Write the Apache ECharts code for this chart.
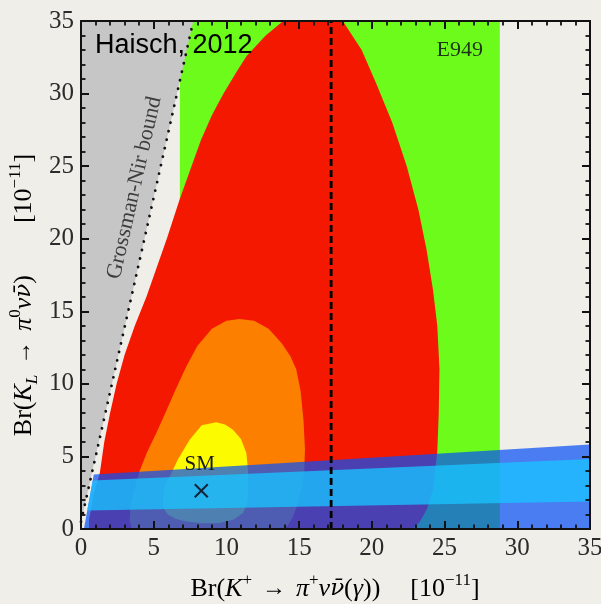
<!DOCTYPE html>
<html>
<head>
<meta charset="utf-8">
<script src="https://cdn.jsdelivr.net/npm/echarts@6/dist/echarts.min.js"></script>
<style>
  html, body { margin: 0; padding: 0; background: #efeee9; }
  #chart { width: 601px; height: 604px; }
</style>
</head>
<body>
<div id="chart"></div>
<script>
// Axis ticks (units of 10^-11)
const xTickValues = [0, 5, 10, 15, 20, 25, 30, 35];
const yTickValues = [0, 5, 10, 15, 20, 25, 30, 35];
const minorPerMajor = 5;

// E949 measured band for Br(K+ -> pi+ nu nubar)
const e949Band = [[6.8, 0], [28.8, 0], [28.8, 35], [6.8, 35]];
const e949Central = [[17.2, 0], [17.2, 35]];

// Grossman-Nir bound and the excluded region above it
const gnBoundLine = [[0, 0.5], [7.72, 35]];
const gnExcluded = [[0, 0.5], [7.72, 35], [0, 35]];

// Allowed regions (outer to inner)
const redRegion = [
  [0.55, 0], [0.55, 0.6], [0.85, 2.3], [1.3, 3.9], [1.6, 6], [2.0, 8], [2.45, 10],
  [3.0, 12], [3.7, 14], [4.5, 16], [5.2, 18], [5.9, 20], [6.78, 22.7], [7.6, 25],
  [8.25, 26.8], [9.0, 28.5], [9.8, 30], [10.7, 31.5], [11.4, 32.6], [12.7, 34], [13.9, 35],
  [18.0, 35], [19.3, 33], [20.3, 30.7], [21.4, 28], [22.4, 25], [23.2, 22], [23.76, 19.25],
  [24.2, 16.5], [24.5, 14], [24.65, 11], [24.6, 8], [24.5, 5.3], [24.2, 2.7], [23.8, 1.4],
  [23.3, 0.5], [22.8, 0]
];
const orangeRegion = [
  [3.5, 0], [3.35, 0.6], [3.4, 1.6], [3.7, 2.8], [4.03, 4.0], [4.55, 5.3], [5.17, 6.6],
  [5.8, 8.0], [6.5, 9.6], [7.24, 11.2], [8.0, 12.6], [9.0, 13.8], [10.0, 14.35], [10.9, 14.47],
  [11.9, 14.35], [12.9, 13.8], [13.8, 12.8], [14.4, 11.9], [14.8, 11.0], [15.1, 9.5],
  [15.3, 7.5], [15.4, 5.5], [15.35, 4.0], [15.2, 3.0], [14.9, 1.7], [14.55, 0.8], [14.2, 0.2],
  [13.8, 0]
];
const yellowRegion = [
  [9.3, 7.35], [8.3, 7.15], [7.47, 6.15], [6.66, 4.78], [6.2, 3.8], [5.75, 2.94], [5.63, 2.0],
  [5.7, 1.4], [5.97, 1.0], [6.5, 0.7], [7.24, 0.52], [8.4, 0.4], [9.53, 0.41], [10.5, 0.65],
  [11.14, 1.1], [11.4, 1.7], [11.48, 2.25], [11.5, 3.2], [11.48, 4.09], [11.37, 5.24],
  [11.0, 6.2], [10.45, 6.84], [9.9, 7.2]
];

// K_L bands
const klBandOuter = [[0.2, 0], [35, 0], [35, 5.82], [0.88, 3.75]];
const klBandInner = [[0.43, 1.28], [35, 1.9], [35, 4.83], [0.81, 3.35]];

// Standard Model point
const smPoint = [[8.27, 2.64]];

// In-plot annotations
const annotationText = ['E949', 'SM', 'Grossman-Nir bound'];
const annotationX = [26.05, 8.16, 3.68];
const annotationY = [33.0, 4.42, 23.5];

const SERIF = "'Liberation Serif', 'DejaVu Serif', serif";
const INK = '#111';

function areaSeries(name, pts, fill, z) {
  return {
    type: 'custom', name, z, silent: true,
    coordinateSystem: 'cartesian2d',
    data: pts,
    renderItem(params, api) {
      if (params.dataIndex !== 0) return null;
      return {
        type: 'polygon',
        shape: { points: pts.map(p => api.coord(p)) },
        style: { fill }
      };
    }
  };
}

function strokeSeries(name, pts, stroke, lineWidth, lineDash, lineCap, z) {
  return {
    type: 'custom', name, z, silent: true,
    coordinateSystem: 'cartesian2d',
    data: pts,
    renderItem(params, api) {
      if (params.dataIndex !== 0) return null;
      return {
        type: 'polyline',
        shape: { points: pts.map(p => api.coord(p)) },
        style: { fill: null, stroke, lineWidth, lineDash, lineCap }
      };
    }
  };
}

const annotationStyles = [
  { fontSize: 22, fill: '#1d3518', rotation: 0 },
  { fontSize: 21, fill: '#1a1a1a', rotation: 0 },
  { fontSize: 22, fill: '#3d3d3d', rotation: 77.2 * Math.PI / 180 }
];

// Frame axis: inward major and minor ticks on every side, labels only bottom/left
function axisCommon(ticks, position, showLabel) {
  return {
    type: 'value', position, min: ticks[0], max: ticks[ticks.length - 1],
    interval: ticks[1] - ticks[0], z: 10,
    axisLine: { show: true, onZero: false, lineStyle: { color: INK, width: 2 } },
    axisTick: { show: true, inside: true, length: 8, lineStyle: { color: INK, width: 2 } },
    minorTick: { show: true, splitNumber: minorPerMajor, length: 4.5, lineStyle: { color: INK, width: 1.8 } },
    splitLine: { show: false },
    axisLabel: {
      show: showLabel, fontFamily: SERIF, fontSize: 25, color: '#2b2b2b', margin: 7
    }
  };
}

const TITLE_COLOR = '#2b2b2b';
const richBase = {
  r: { fontFamily: SERIF, fontSize: 26, color: TITLE_COLOR, lineHeight: 34, verticalAlign: 'middle' },
  i: { fontFamily: SERIF, fontSize: 26, fontStyle: 'italic', color: TITLE_COLOR, lineHeight: 34, verticalAlign: 'middle' },
  nb: { fontFamily: "'DejaVu Serif', serif", fontSize: 23, fontStyle: 'italic', color: TITLE_COLOR, lineHeight: 34, verticalAlign: 'middle' },
  ar: { fontFamily: SERIF, fontSize: 24, color: TITLE_COLOR, lineHeight: 34, verticalAlign: 'middle', padding: [0, 10, 0, 10] },
  sup: { fontFamily: SERIF, fontSize: 17, color: TITLE_COLOR, lineHeight: 20, verticalAlign: 'top' },
  sub: { fontFamily: SERIF, fontSize: 17, fontStyle: 'italic', color: TITLE_COLOR, lineHeight: 20, verticalAlign: 'bottom' },
  gx: { width: 30, lineHeight: 34 },
  gy: { width: 52, lineHeight: 34 }
};

const xTitle = '{r|Br(}{i|K}{sup|+}{ar|\u2192}{i|\u03c0}{sup|+}{i|\u03bd}{nb|\u03bd\u0304}{r|(}{i|\u03b3}{r|))}{gx| }{r|[10}{sup|\u221211}{r|]}';
const yTitle = '{r|Br(}{i|K}{sub|L}{ar|\u2192}{i|\u03c0}{sup|0}{i|\u03bd}{nb|\u03bd\u0304}{r|)}{gy| }{r|[10}{sup|\u221211}{r|]}';

const chart = echarts.init(document.getElementById('chart'), null, { renderer: 'canvas' });

chart.setOption({
  animation: false,
  backgroundColor: '#efeee9',
  grid: { left: 81, right: 11, top: 21, bottom: 75, containLabel: false, outerBoundsMode: 'none' },
  xAxis: [axisCommon(xTickValues, 'bottom', true), axisCommon(xTickValues, 'top', false)],
  yAxis: [axisCommon(yTickValues, 'left', true), axisCommon(yTickValues, 'right', false)],
  series: [
    areaSeries('E949', e949Band, '#6dfb1c', 1),
    areaSeries('Grossman-Nir excluded', gnExcluded, '#c6c6c6', 2),
    areaSeries('red', redRegion, '#f41800', 3),
    areaSeries('orange', orangeRegion, '#fd7f00', 4),
    areaSeries('yellow', yellowRegion, '#fdfb00', 5),
    areaSeries('KL outer', klBandOuter, 'rgba(10,80,245,0.72)', 6),
    areaSeries('KL inner', klBandInner, 'rgba(25,195,255,0.78)', 7),
    strokeSeries('Grossman-Nir bound', gnBoundLine, INK, 2.8, [0.1, 8.6], 'round', 8),
    strokeSeries('E949 central', e949Central, '#000', 2.8, [7, 4], 'butt', 8),
    {
      type: 'custom', name: 'SM', z: 9, silent: true,
      data: smPoint,
      renderItem(params, api) {
        const c = api.coord([api.value(0), api.value(1)]);
        const h = 6.5;
        const st = { stroke: '#14233a', lineWidth: 2 };
        return {
          type: 'group',
          children: [
            { type: 'line', shape: { x1: c[0] - h, y1: c[1] - h, x2: c[0] + h, y2: c[1] + h }, style: st },
            { type: 'line', shape: { x1: c[0] - h, y1: c[1] + h, x2: c[0] + h, y2: c[1] - h }, style: st }
          ]
        };
      }
    },
    {
      type: 'custom', name: 'annotations', z: 9, silent: true,
      data: annotationX.map((x, k) => [x, annotationY[k]]),
      renderItem(params, api) {
        const k = params.dataIndex;
        const c = api.coord([api.value(0), api.value(1)]);
        const s = annotationStyles[k];
        return {
          type: 'text', x: c[0], y: c[1], rotation: s.rotation,
          style: {
            text: annotationText[k], fontFamily: SERIF, fontSize: s.fontSize,
            fill: s.fill, align: 'center', verticalAlign: 'middle'
          }
        };
      }
    }
  ],
  graphic: [
    {
      type: 'text', x: 335, y: 589, z: 20,
      style: { text: xTitle, rich: richBase, align: 'center', verticalAlign: 'middle' }
    },
    {
      type: 'text', x: 24, y: 295, rotation: Math.PI / 2, z: 20,
      style: { text: yTitle, rich: richBase, align: 'center', verticalAlign: 'middle' }
    },
    {
      type: 'text', x: 95, y: 46, z: 20,
      style: {
        text: 'Haisch, 2012', fontFamily: "'Liberation Sans', Arial, sans-serif",
        fontSize: 27, fill: '#000', align: 'left', verticalAlign: 'middle'
      }
    }
  ]
});
</script>
</body>
</html>
